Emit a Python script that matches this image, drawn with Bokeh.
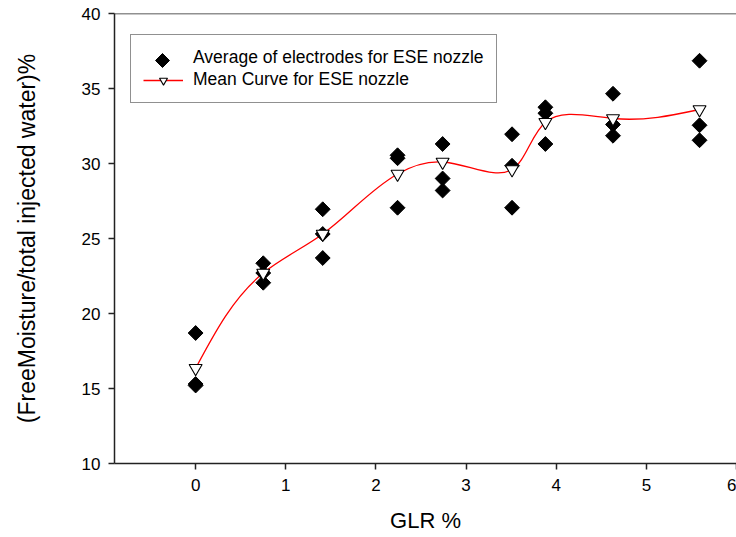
import numpy as np
from bokeh.plotting import figure
from bokeh.models import (ColumnDataSource, Range1d, FixedTicker, Legend, LegendItem,
                          Span, PolyAnnotation)
from bokeh.embed import file_html
from bokeh.resources import INLINE

# Gas-to-liquid ratio (%) of each measuring campaign
glr_levels = [0, 0.75, 1.41, 2.24, 2.74, 3.51, 3.88, 4.63, 5.59]

# Individual electrode averages (free moisture / total injected water, %)
electrode_glr = [0, 0, 0,
                 0.75, 0.75, 0.75,
                 1.41, 1.41, 1.41,
                 2.24, 2.24, 2.24,
                 2.74, 2.74, 2.74,
                 3.51, 3.51, 3.51,
                 3.88, 3.88, 3.88,
                 4.63, 4.63, 4.63,
                 5.59, 5.59, 5.59]
electrode_moisture = [18.7, 15.3, 15.2,
                      23.35, 22.05, 22.7,
                      26.95, 25.3, 23.7,
                      30.55, 30.35, 27.05,
                      31.3, 29.0, 28.2,
                      31.95, 29.85, 27.05,
                      33.75, 33.35, 31.3,
                      34.65, 32.6, 31.85,
                      36.85, 32.55, 31.55]

# Mean value at each GLR level
mean_moisture = [16.35, 22.7, 25.3, 29.3, 30.1, 29.6, 32.75, 33.0, 33.6]

x_ticks = [0, 1, 2, 3, 4, 5, 6]
y_ticks = [10, 15, 20, 25, 30, 35, 40]

FONT = "Liberation Sans"
W, H = 736, 537
BORDER_L, BORDER_R, BORDER_T, BORDER_B = 114, 0, 13, 74
X0, X1, Y0, Y1 = -0.9, 6.0, 10, 40

p = figure(width=W, height=H, output_backend="svg", toolbar_location=None,
           x_range=Range1d(X0, X1), y_range=Range1d(Y0, Y1),
           min_border_left=BORDER_L, min_border_right=BORDER_R,
           min_border_top=BORDER_T, min_border_bottom=BORDER_B)
p.outline_line_color = None
p.grid.grid_line_color = None
p.background_fill_color = "white"
p.border_fill_color = "white"

for ax in (p.xaxis[0], p.yaxis[0]):
    ax.axis_line_color = "#222222"
    ax.axis_line_width = 1.5
    ax.major_tick_line_color = "#222222"
    ax.major_tick_line_width = 1.5
    ax.major_tick_in = 0
    ax.major_tick_out = 6
    ax.minor_tick_line_color = None
    ax.major_label_text_font = FONT
    ax.major_label_text_font_size = "17px"
    ax.major_label_text_color = "black"
    ax.axis_label_text_font = FONT
    ax.axis_label_text_font_style = "normal"
    ax.axis_label_text_color = "black"

p.xaxis.ticker = FixedTicker(ticks=x_ticks)
p.yaxis.ticker = FixedTicker(ticks=y_ticks)
p.xaxis.axis_label = "GLR %"
p.yaxis.axis_label = "(FreeMoisture/total injected water)%"
p.xaxis.axis_label_text_font_size = "22px"
p.yaxis.axis_label_text_font_size = "23px"
p.xaxis.major_label_standoff = 9
p.yaxis.major_label_standoff = 8
p.xaxis.axis_label_standoff = 14
p.yaxis.axis_label_standoff = 39

# top border of the frame
p.add_layout(Span(location=Y1, dimension="width", line_color="#222222", line_width=1.5))

# Smooth mean curve: parametric natural cubic spline (chord length measured on screen),
# drawn as one Bezier segment per interval
sx = (W - BORDER_L - BORDER_R) / (X1 - X0)
sy = (H - BORDER_T - BORDER_B) / (Y1 - Y0)
px = np.array(glr_levels, dtype=float) * sx
py = np.array(mean_moisture, dtype=float) * sy
t = np.concatenate([[0.0], np.cumsum(np.hypot(np.diff(px), np.diff(py)))])
h = np.diff(t)


def end_slopes(v):
    n = len(v)
    A = np.zeros((n, n))
    b = np.zeros(n)
    A[0, 0] = A[-1, -1] = 1.0
    for i in range(1, n - 1):
        A[i, i - 1] = h[i - 1]
        A[i, i] = 2 * (h[i - 1] + h[i])
        A[i, i + 1] = h[i]
        b[i] = 6 * ((v[i + 1] - v[i]) / h[i] - (v[i] - v[i - 1]) / h[i - 1])
    M = np.linalg.solve(A, b)
    s = np.diff(v) / h
    return s - h * (2 * M[:-1] + M[1:]) / 6, s + h * (M[:-1] + 2 * M[1:]) / 6


dx0, dx1 = end_slopes(px)
dy0, dy1 = end_slopes(py)
curve = ColumnDataSource(dict(
    x0=px[:-1] / sx, y0=py[:-1] / sy, x1=px[1:] / sx, y1=py[1:] / sy,
    cx0=(px[:-1] + h / 3 * dx0) / sx, cy0=(py[:-1] + h / 3 * dy0) / sy,
    cx1=(px[1:] - h / 3 * dx1) / sx, cy1=(py[1:] - h / 3 * dy1) / sy))
curve_r = p.bezier(x0="x0", y0="y0", x1="x1", y1="y1", cx0="cx0", cy0="cy0",
                   cx1="cx1", cy1="cy1", source=curve, line_color="red", line_width=1.3)

pts = ColumnDataSource(dict(x=electrode_glr, y=electrode_moisture))
diam_r = p.scatter("x", "y", source=pts, marker="square", angle=np.pi / 4, size=10.5,
                   fill_color="black", line_color="black")
# stand-in renderer for the legend row (its key is drawn as a rotated square below)
diam_key = p.scatter("x", "y", source=pts, marker="square", size=0,
                     fill_alpha=0, line_alpha=0)

means = ColumnDataSource(dict(x=glr_levels, y=mean_moisture))
tri_r = p.scatter("x", "y", source=means, marker="inverted_triangle", size=13,
                  fill_color="white", line_color="black", line_width=1.1)

LEG_X, LEG_Y, PAD, ROW_H, GAP, GLYPH_W = 16, 360, 12, 20, 1, 40
legend = Legend(items=[
    LegendItem(label="Average of electrodes for ESE nozzle", renderers=[diam_key]),
    LegendItem(label="Mean Curve for ESE nozzle", renderers=[curve_r, tri_r]),
], location=(LEG_X, LEG_Y))
legend.label_text_font = FONT
legend.label_text_font_size = "17.5px"
legend.label_text_color = "black"
legend.glyph_width = GLYPH_W
legend.glyph_height = ROW_H
legend.label_height = ROW_H
legend.label_standoff = 10
legend.spacing = GAP
legend.padding = PAD
legend.margin = 0
legend.border_line_color = "#222222"
legend.border_line_width = 1.5
legend.background_fill_color = None
p.add_layout(legend)

# diamond key of the first legend row
leg_h = 2 * PAD + 2 * ROW_H + GAP
kx = LEG_X + PAD + GLYPH_W / 2
ky = LEG_Y + leg_h - PAD - ROW_H / 2
r = 7
p.add_layout(PolyAnnotation(xs=[kx - r, kx, kx + r, kx], ys=[ky, ky + r, ky, ky - r],
                            xs_units="screen", ys_units="screen",
                            fill_color="black", fill_alpha=1.0, line_color="black",
                            line_alpha=1.0, line_width=1, level="overlay"))

open("out.html", "w").write(file_html(p, INLINE))
